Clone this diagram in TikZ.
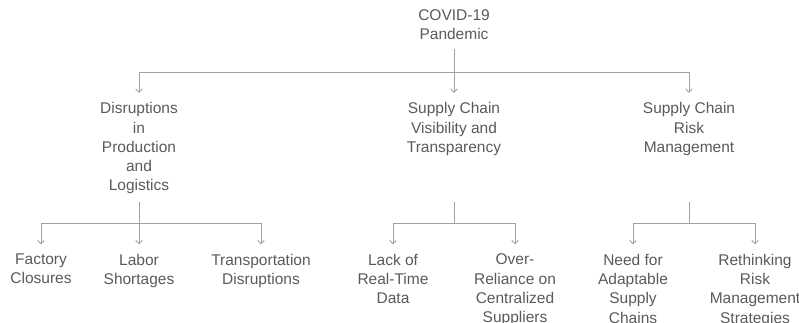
\documentclass[tikz,border=0pt]{standalone}
\usepackage{fontspec}
\setmainfont{Liberation Sans}
\usetikzlibrary{arrows.meta,calc}
\definecolor{txt}{HTML}{5A5A5A}
\definecolor{lncol}{HTML}{A2A2A2}
\begin{document}
\begin{tikzpicture}[x=1pt,y=-1pt,
  lbl/.style={font=\fontsize{15.5}{19.3}\selectfont, text=txt, align=center,
    inner sep=0pt, outer xsep=0pt, outer ysep=9.5pt, anchor=north},
  conn/.style={draw=lncol, line width=0.9pt},
  arr/.style={conn, -{Straight Barb[length=3.5pt,width=6.5pt]}}]
\useasboundingbox (0,0) rectangle (799,323);

% root
\node[lbl] (covid) at (454,-0.2) {COVID-19\\Pandemic};

% level 1
\node[lbl] (dis)  at (139,93) {Disruptions\\in\\Production\\and\\Logistics};
\node[lbl] (vis)  at (454,93) {Supply Chain\\Visibility and\\Transparency};
\node[lbl] (risk) at (689,93) {Supply Chain\\Risk\\Management};

% level 2
\node[lbl] (fac)  at (41,244.5)  {Factory\\Closures};
\node[lbl] (lab)  at (139,244.5) {Labor\\Shortages};
\node[lbl] (tra)  at (261,244.5) {Transportation\\Disruptions};
\node[lbl] (lack) at (393,244.5) {Lack of\\Real-Time\\Data};
\node[lbl] (over) at (515,244.5) {Over-\\Reliance on\\Centralized\\Suppliers};
\node[lbl] (need) at (633,244.5) {Need for\\Adaptable\\Supply\\Chains};
\node[lbl] (reth) at (755,244.5) {Rethinking\\Risk\\Management\\Strategies};

% junction coordinates
\coordinate (j0) at (454,72);
\coordinate (s1) at (139,202);
\coordinate (s2) at (454,202);
\coordinate (s3) at (689,202);
\coordinate (h1) at (139,223);
\coordinate (h2) at (454,223);
\coordinate (h3) at (689,223);

% root connectors
\draw[conn] (covid) -- (j0);
\draw[arr] (j0) -| (dis);
\draw[arr] (j0) -- (vis);
\draw[arr] (j0) -| (risk);

% group 1
\draw[conn] (s1) -- (h1);
\draw[arr] (h1) -| (fac);
\draw[arr] (h1) -- (lab);
\draw[arr] (h1) -| (tra);

% group 2
\draw[conn] (s2) -- (h2);
\draw[arr] (h2) -| (lack);
\draw[arr] (h2) -| (over);

% group 3
\draw[conn] (s3) -- (h3);
\draw[arr] (h3) -| (need);
\draw[arr] (h3) -| (reth);
\end{tikzpicture}
\end{document}
